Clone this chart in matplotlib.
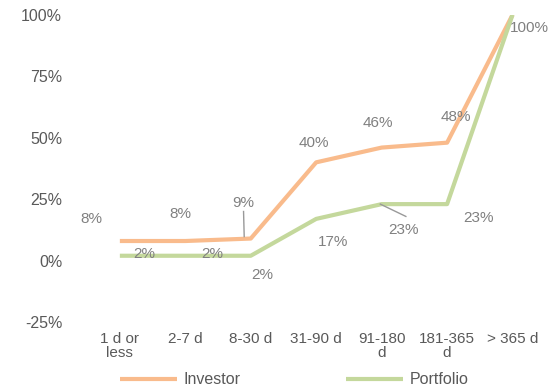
import numpy as np
import matplotlib.pyplot as plt

plt.rcParams['font.family'] = ['Liberation Sans', 'DejaVu Sans']

categories = ['1 d or\nless', '2-7 d', '8-30 d', '31-90 d', '91-180\nd', '181-365\nd', '> 365 d']
investor = [8, 8, 9, 40, 46, 48, 100]
portfolio = [2, 2, 2, 17, 23, 23, 100]
yticks = [-25, 0, 25, 50, 75, 100]

orange = '#F9BB8C'
green = '#C4D89C'
label_color = '#808080'

# label offsets (x in category units, y in % units) relative to each point
inv_off = [(-0.43, 9), (-0.08, 11), (-0.12, 14.6), (-0.04, 8), (-0.05, 10), (0.13, 10.5), (0.26, -5.3)]
port_off = [(0.38, 0.8), (0.41, 0.8), (0.17, -8), (0.26, -9.3), (0.33, -10.4), (0.48, -5.5), (0, 0)]

fig = plt.figure(figsize=(5.48, 3.9), dpi=100)
ax = fig.add_axes([0.159, 0.174, 0.836, 0.788])

x = np.arange(len(categories))
ax.plot(x, investor, color=orange, lw=3, solid_capstyle='butt', label='Investor')
ax.plot(x, portfolio, color=green, lw=3, solid_capstyle='butt', label='Portfolio')

for i, v in enumerate(investor):
    dx, dy = inv_off[i]
    ax.text(i + dx, v + dy, f'{v}%', color=label_color, fontsize=11, ha='center', va='center')
for i, v in enumerate(portfolio[:-1]):
    dx, dy = port_off[i]
    ax.text(i + dx, v + dy, f'{v}%', color=label_color, fontsize=11, ha='center', va='center')

# leader lines
ax.plot([1.89, 1.9], [20, 9.8], color='#999999', lw=1)
ax.plot([3.98, 4.37], [23, 18], color='#999999', lw=1)

ax.set_xlim(-0.5, 6.5)
ax.set_ylim(-25, 100)
ax.set_xticks(x)
ax.set_xticklabels(categories, fontsize=11, color='#595959', linespacing=1.0)
ax.set_yticks(yticks)
ax.set_yticklabels([f'{t}%' for t in yticks], fontsize=11.5, color='#595959')
ax.tick_params(length=0)
ax.tick_params(axis='y', pad=18)
ax.tick_params(axis='x', pad=7)
for s in ax.spines.values():
    s.set_visible(False)

fig.legend(loc='lower left', bbox_to_anchor=(0.192, -0.03), ncol=2, frameon=False,
           fontsize=11.5, handlelength=3.6, columnspacing=6.6, handletextpad=0.4,
           labelcolor='#595959')

fig.savefig('out.png', dpi=100)
